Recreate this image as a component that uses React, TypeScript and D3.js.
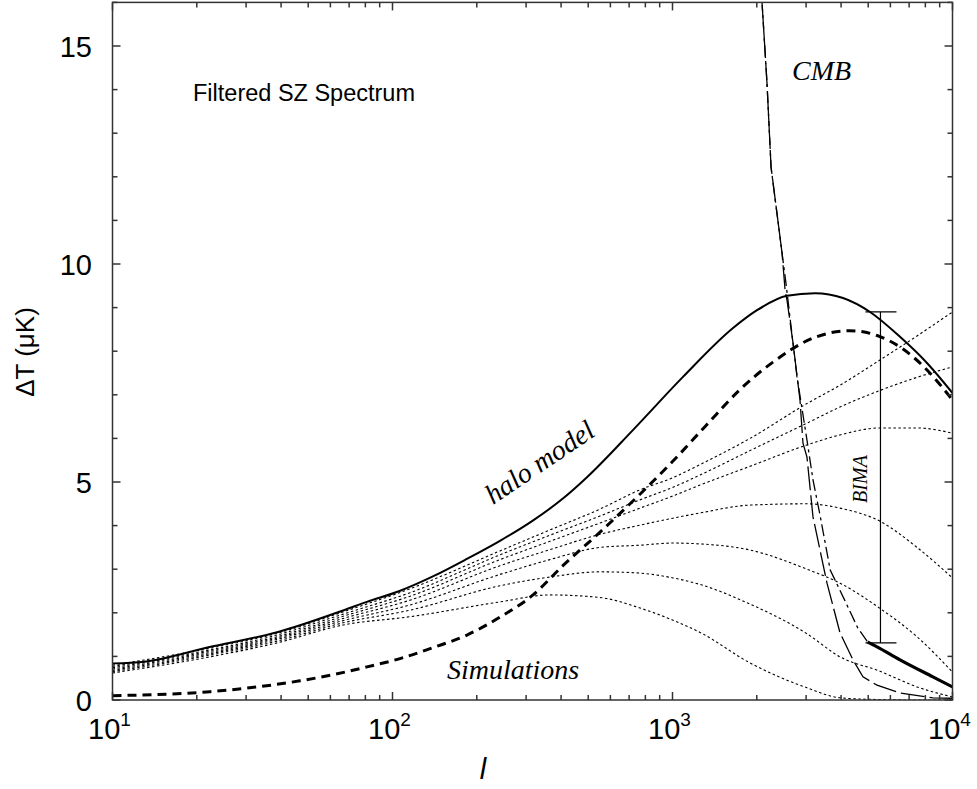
import React from "react";
import * as d3 from "d3";

// ---- data ----
const haloL = [10, 13, 22, 39, 67, 81, 106, 140, 185, 242, 318, 406, 495, 722, 1090, 1645, 2004, 2564, 3228, 4064, 5076, 6494, 8108, 10000];
const haloY = [0.84, 0.88, 1.21, 1.56, 2.06, 2.25, 2.5, 2.84, 3.24, 3.65, 4.12, 4.62, 5.11, 6.19, 7.41, 8.53, 8.94, 9.27, 9.33, 9.22, 8.9, 8.33, 7.73, 7.04];

const modelL = [10, 22.3, 38.7, 46.7, 61.3, 81.1, 106.4, 139.5, 184.5, 242, 317.6, 406, 551, 765, 1004, 1328, 1742, 2285, 3175, 4304, 5375, 6657, 8108, 10000];
const modelY = [0.1, 0.19, 0.36, 0.44, 0.58, 0.76, 0.95, 1.2, 1.49, 1.9, 2.41, 3.08, 3.85, 4.72, 5.48, 6.32, 7.12, 7.75, 8.3, 8.47, 8.36, 8.05, 7.57, 6.88];

const simL = [10, 22.3, 38.7, 66.6, 115.5, 242, 365, 551, 765, 1004, 1254, 1892, 3022, 3965, 5510, 7469, 10000];
const simA = [0.8, 1.19, 1.53, 2.02, 2.55, 3.42, 3.9, 4.38, 4.82, 5.1, 5.4, 6.0, 6.8, 7.22, 7.8, 8.35, 8.9];
const simB = [0.77, 1.15, 1.49, 1.97, 2.46, 3.33, 3.78, 4.22, 4.59, 4.88, 5.16, 5.72, 6.35, 6.72, 7.1, 7.4, 7.64];
const simC = [0.74, 1.12, 1.45, 1.92, 2.38, 3.22, 3.64, 4.06, 4.4, 4.68, 4.93, 5.36, 5.85, 6.08, 6.24, 6.24, 6.12];
const simD = [0.71, 1.09, 1.42, 1.87, 2.29, 3.08, 3.45, 3.8, 4.01, 4.17, 4.29, 4.47, 4.5, 4.4, 4.1, 3.5, 2.8];
const simE = [0.68, 1.06, 1.39, 1.82, 2.18, 2.88, 3.22, 3.5, 3.55, 3.6, 3.58, 3.44, 3.0, 2.68, 2.1, 1.45, 0.64];
const simF = [0.65, 1.03, 1.35, 1.77, 2.06, 2.62, 2.82, 2.94, 2.91, 2.8, 2.65, 2.2, 1.52, 0.99, 0.66, 0.3, 0.07];
const simG = [0.62, 0.99, 1.31, 1.72, 1.91, 2.25, 2.41, 2.35, 2.11, 1.83, 1.55, 0.85, 0.28, 0.05, 0.01, 0.0, 0.0];
const simSeries = [simA, simB, simC, simD, simE, simF, simG];

const cmbDashL = [2060, 2088, 2175, 2249, 2462, 2524, 2564, 2694, 2853, 2924, 3022, 3175, 3563, 3965, 4413, 4789, 5375, 6494, 8511, 10000];
const cmbDashY = [16.6, 16.0, 14.15, 12.22, 10.25, 9.4, 9.17, 8.19, 6.88, 5.89, 5.57, 4.2, 2.68, 1.54, 0.92, 0.53, 0.34, 0.16, 0.05, 0.04];

const cmbDotL = [2060, 2088, 2175, 2249, 2462, 2542, 2784, 3022, 3175, 3364, 3659, 4120, 4591, 4980];
const cmbDotY = [16.6, 16.0, 14.15, 12.22, 10.25, 9.56, 7.41, 5.96, 5.05, 4.24, 2.98, 2.29, 1.65, 1.33];
const cmbTailL = [4980, 5375, 6494, 8511, 10000];
const cmbTailY = [1.33, 1.22, 0.92, 0.53, 0.3];

const bimaL = 5530;
const bimaLow = 1.31;
const bimaHigh = 8.9;

const xMajor = [10, 100, 1000, 10000];
const xExp = ["1", "2", "3", "4"];
const yMajor = [0, 5, 10, 15];

const W = 977, H = 789;
const L = 112.5, R = 952.5, T = 2.4, B = 700;

export default function App() {
  const x = d3.scaleLog().domain([10, 1e4]).range([L, R]);
  const y = d3.scaleLinear().domain([0, 16]).range([B, T]);
  const mk = (ls: number[], ys: number[], curve: d3.CurveFactory = d3.curveMonotoneX) =>
    d3.line<number>().x((_, i) => x(ls[i])).y((v) => y(v)).curve(curve)(ys) || "";

  const xMinor: number[] = [];
  for (let d = 10; d < 1e4; d *= 10) for (let k = 2; k <= 9; k++) xMinor.push(d * k);
  const yMinor = d3.range(0, 17).filter((v) => v % 5 !== 0);

  const sans = "'Liberation Sans', Arial, Helvetica, sans-serif";
  const serif = "'Liberation Serif', 'Times New Roman', Times, serif";
  const ax = "#333";

  return (
    <svg width={W} height={H} style={{ position: "absolute", left: 0, top: 0, background: "#fff" }}>
      <defs>
        <clipPath id="plot">
          <rect x={L} y={T} width={R - L} height={B - T} />
        </clipPath>
      </defs>
      <rect x={0} y={0} width={W} height={H} fill="#fff" />
      <g clipPath="url(#plot)" fill="none" stroke="#000">
        {simSeries.map((s, i) => (
          <path key={i} d={mk(simL, s)} strokeWidth={1.1} strokeDasharray="2.5,2.5" />
        ))}
        <path d={mk(modelL, modelY)} strokeWidth={3} strokeDasharray="9,6" />
        <path d={mk(haloL, haloY)} strokeWidth={2} />
        <path d={mk(cmbDashL, cmbDashY, d3.curveLinear)} strokeWidth={1.3} strokeDasharray="24,5" />
        <path d={mk(cmbDotL, cmbDotY, d3.curveLinear)} strokeWidth={1.3} strokeDasharray="12,4,3,4" />
        <path d={mk(cmbTailL, cmbTailY)} strokeWidth={3.2} />
        <line x1={x(bimaL)} x2={x(bimaL)} y1={y(bimaLow)} y2={y(bimaHigh)} strokeWidth={1.2} />
        <line x1={x(bimaL) - 15} x2={x(bimaL) + 16} y1={y(bimaLow)} y2={y(bimaLow)} strokeWidth={1.2} />
        <line x1={x(bimaL) - 15} x2={x(bimaL) + 16} y1={y(bimaHigh)} y2={y(bimaHigh)} strokeWidth={1.2} />
      </g>

      {/* axes frame and ticks */}
      <g stroke={ax} strokeWidth={1.5} fill="none">
        <rect x={L} y={T} width={R - L} height={B - T} />
        {xMajor.map((v) => (
          <g key={"xM" + v}>
            <line x1={x(v)} x2={x(v)} y1={B} y2={B - 8} />
            <line x1={x(v)} x2={x(v)} y1={T} y2={T + 8} />
          </g>
        ))}
        {xMinor.map((v) => (
          <g key={"xm" + v}>
            <line x1={x(v)} x2={x(v)} y1={B} y2={B - 5} />
            <line x1={x(v)} x2={x(v)} y1={T} y2={T + 5} />
          </g>
        ))}
        {yMajor.map((v) => (
          <g key={"yM" + v}>
            <line x1={L} x2={L + 8} y1={y(v)} y2={y(v)} />
            <line x1={R} x2={R - 8} y1={y(v)} y2={y(v)} />
          </g>
        ))}
        {yMinor.map((v) => (
          <g key={"ym" + v}>
            <line x1={L} x2={L + 5} y1={y(v)} y2={y(v)} />
            <line x1={R} x2={R - 5} y1={y(v)} y2={y(v)} />
          </g>
        ))}
      </g>

      {/* tick labels */}
      <g fontFamily={sans} fill="#000">
        {yMajor.map((v) => (
          <text key={"yl" + v} x={92} y={y(v) + 10.5} fontSize={29} textAnchor="end">
            {v}
          </text>
        ))}
        {xMajor.map((v, i) => (
          <text key={"xl" + v} x={x(v) - 3} y={739} fontSize={29} textAnchor="middle">
            10
            <tspan dy={-13} fontSize={19}>
              {xExp[i]}
            </tspan>
          </text>
        ))}
        <text x={483} y={779} fontSize={29} fontStyle="italic" textAnchor="middle">
          l
        </text>
        <text transform="translate(34,352) rotate(-90)" fontSize={26} textAnchor="middle">
          ΔT (μK)
        </text>
        <text x={193} y={101} fontSize={23.5}>
          Filtered SZ Spectrum
        </text>
      </g>

      {/* annotations */}
      <g fontFamily={serif} fontStyle="italic" fill="#000">
        <text x={792} y={80} fontSize={28}>
          CMB
        </text>
        <text x={447} y={679} fontSize={28}>
          Simulations
        </text>
        <text transform="translate(493,505) rotate(-34)" fontSize={28}>
          halo model
        </text>
        <text transform="translate(867,479) rotate(-90)" fontSize={20} textAnchor="middle">
          BIMA
        </text>
      </g>
    </svg>
  );
}
